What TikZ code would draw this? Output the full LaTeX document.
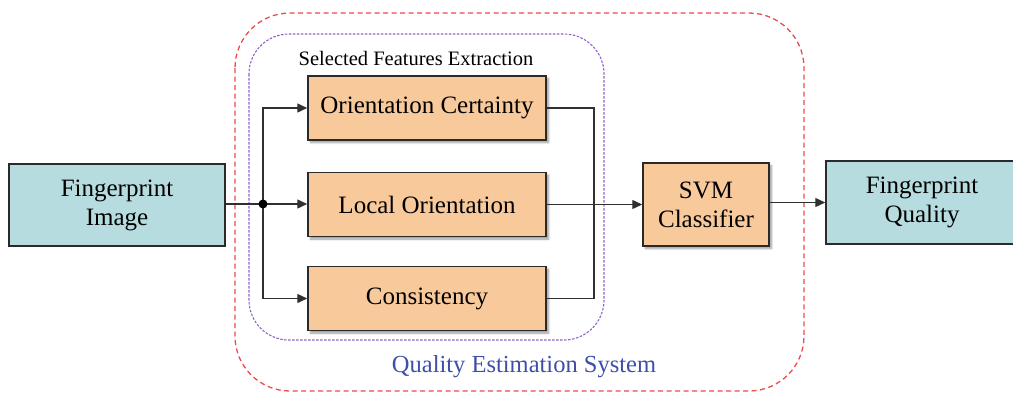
\documentclass[tikz,border=0pt]{standalone}
\usepackage{fontspec}
\setmainfont{Liberation Serif}
\usetikzlibrary{arrows.meta,shadows.blur}
\definecolor{boxorange}{HTML}{F8C99B}
\definecolor{boxblue}{HTML}{B7DCE0}
\definecolor{edgegray}{HTML}{2A2A2A}
\definecolor{linegray}{HTML}{303030}
\definecolor{reddash}{HTML}{EE4A4E}
\definecolor{purpledash}{HTML}{8E63C9}
\definecolor{titleblue}{HTML}{3E4FA8}
\begin{document}
\begin{tikzpicture}[x=1pt,y=-1pt,
  procbox/.style={draw=edgegray, line width=1.5pt, fill=boxorange, minimum width=238pt,
    minimum height=64pt, inner sep=0pt, font=\fontsize{25}{29}\selectfont,
    blur shadow={shadow xshift=2.5pt, shadow yshift=-2.5pt, shadow blur steps=6, shadow blur radius=2pt}},
  iobox/.style={draw=edgegray, line width=1.5pt, fill=boxblue, inner sep=0pt, align=center,
    font=\fontsize{25}{29}\selectfont},
  conn/.style={draw=linegray, line width=1.4pt},
  arr/.style={conn, -{Triangle[length=10pt,width=9pt]}},
  reddashbox/.style={draw=reddash, line width=1.3pt, dash pattern=on 5pt off 3.5pt, rounded corners=55pt},
  purpledashbox/.style={draw=purpledash, line width=1.1pt, dash pattern=on 2.5pt off 1.5pt, rounded corners=40pt},
]
\useasboundingbox (0,0) rectangle (1013,392);
\clip (0,0) rectangle (1013,392);

% containers
\draw[reddashbox] (235,13) rectangle (804,391);
\draw[purpledashbox] (249,34) rectangle (604,340);
\node[font=\fontsize{20.5}{24}\selectfont] (sfe) at (416,58) {Selected Features Extraction};
\node[font=\fontsize{24.5}{28}\selectfont, text=titleblue] (qes) at (524,367) {Quality Estimation System};

% nodes
\node[iobox, minimum width=216pt, minimum height=82pt] (img) at (117,205) {Fingerprint\\Image};
\node[procbox] (oc) at (427,108) {Orientation Certainty};
\node[procbox] (lo) at (427,204.5) {Local Orientation};
\node[procbox] (cons) at (427,298.5) {Consistency};
\node[procbox, minimum width=126pt, minimum height=83pt, align=center] (svm) at (706,204.5) {SVM\\Classifier};
\node[iobox, minimum width=192pt, minimum height=83pt] (qual) at (922,202.5) {Fingerprint\\Quality};

% connectors
\coordinate (j) at (263,204);
\coordinate (ocr) at (594,108);
\coordinate (consr) at (594,298.5);
\draw[conn] (img.east |- j) -- (j);
\draw[arr] (j) |- (oc.west);
\draw[arr] (j) -- (lo.west |- j);
\draw[arr] (j) |- (cons.west);
\fill[black] (j) circle (4.5pt);
\draw[conn] (oc.east) -- (ocr) -- (consr) -- (cons.east);
\draw[arr] (lo.east) -- (svm.west |- lo.east);
\draw[arr] (svm.east |- qual.west) -- (qual.west);
\end{tikzpicture}
\end{document}
